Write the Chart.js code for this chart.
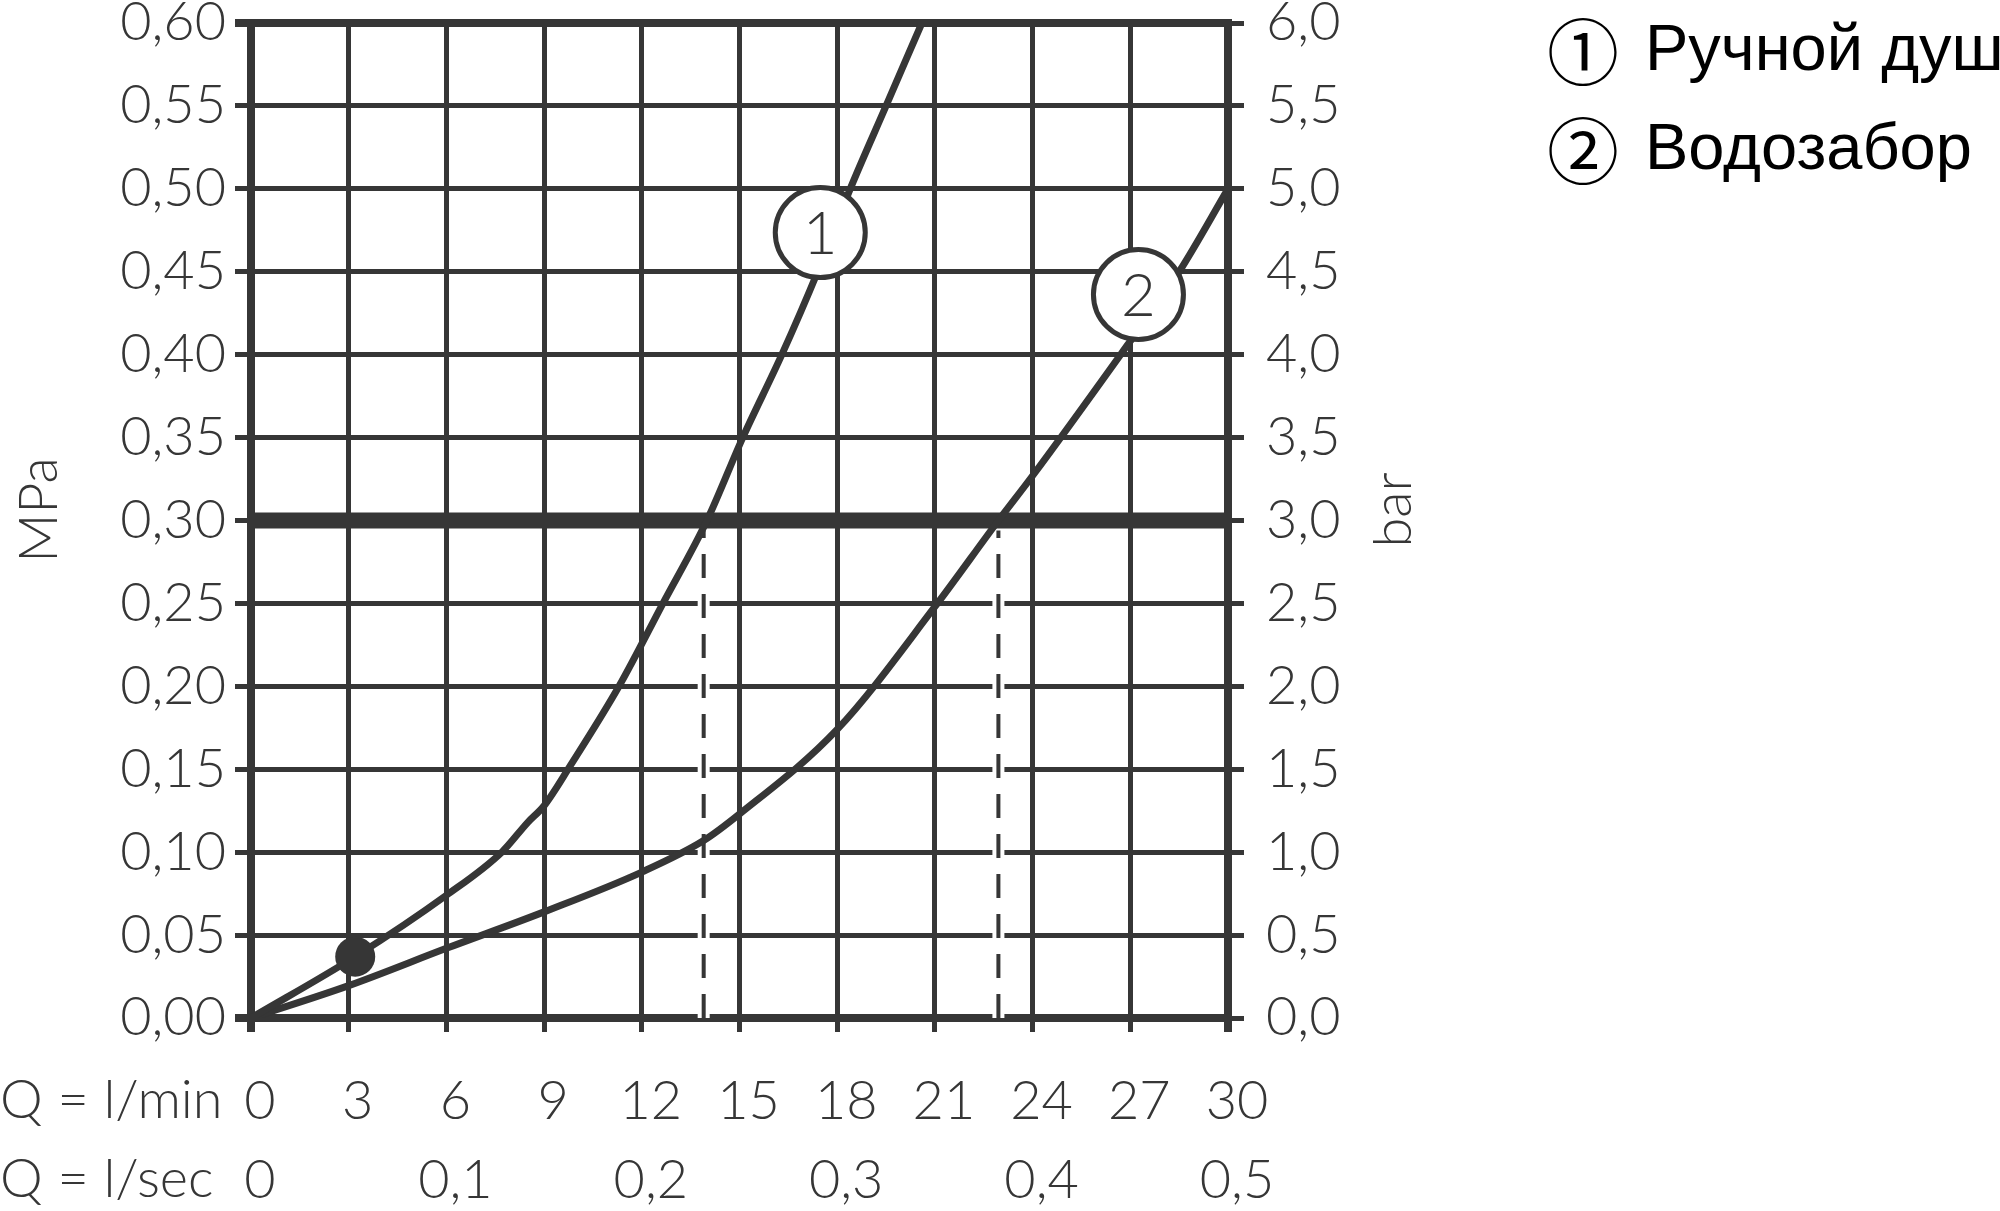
<!DOCTYPE html>
<html>
<head>
<meta charset="utf-8">
<script src="https://cdn.jsdelivr.net/npm/chart.js@4.4.1/dist/chart.umd.min.js"></script>
<style>
    html, body { margin: 0; padding: 0; background: #fff; }
    #wrap { width: 2000px; height: 1211px; position: relative; }
</style>
</head>
<body>
<div id="wrap"><canvas id="chart"></canvas></div>
<script>
// curve 1 - hand shower, curve 2 - tap outlet (Q in l/min, p in MPa)
const handShowerFlow = [0, 3.2, 6, 7.7, 8.5, 9, 9.8, 11.3, 12.65, 14.0, 15.1, 16.3, 17.4, 18.4, 19.5, 20.6];
const handShowerMPa  = [0, 0.037, 0.074, 0.100, 0.118, 0.128, 0.152, 0.200, 0.250, 0.300, 0.350, 0.400, 0.450, 0.500, 0.550, 0.600];

const tapFlow = [0, 3, 6, 9, 12, 13.9, 15, 18, 21, 22.95, 24, 26.7, 28.5, 30];
const tapMPa  = [0, 0.0195, 0.042, 0.064, 0.088, 0.107, 0.123, 0.174, 0.248, 0.300, 0.327, 0.400, 0.450, 0.500];

const refPressure = 0.30;            // heavy line
const dropFlows = [13.9, 22.95];     // dashed verticals
const markerPoint = [3.2, 0.037];    // black dot on curve 1
const labelFlows = [17.48, 27.25];   // circled numbers
const labelMPa = [0.4736, 0.4363];
const labelTexts = ["1", "2"];

const legendItems = ["Ручной душ", "Водозабор"];
const legendMarks = ["\u2460", "\u2461"];

const INK = "#363636";
const FONT = "Lato";
const FS = 54;

function pts(xs, ys) {
    return xs.map((x, i) => ({ x: x, y: ys[i] }));
}

function comma(v, d) {
    return v.toFixed(d).replace(".", ",");
}

const datasets = [];

dropFlows.forEach(f => {
    datasets.push({
        data: [{ x: f, y: 0 }, { x: f, y: refPressure }],
        borderColor: "#fff", borderWidth: 12, pointRadius: 0, order: 10
    });
    datasets.push({
        data: [{ x: f, y: 0 }, { x: f, y: refPressure - 0.006 }],
        borderColor: INK, borderWidth: 4, borderDash: [24, 16], pointRadius: 0, order: 9
    });
});

datasets.push({
    data: [{ x: 0, y: refPressure }, { x: 30, y: refPressure }],
    borderColor: INK, borderWidth: 16, pointRadius: 0, order: 8
});

datasets.push({
    label: legendItems[0],
    data: pts(handShowerFlow, handShowerMPa),
    borderColor: INK, borderWidth: 7, pointRadius: 0,
    cubicInterpolationMode: "monotone", order: 5
});
datasets.push({
    label: legendItems[1],
    data: pts(tapFlow, tapMPa),
    borderColor: INK, borderWidth: 7, pointRadius: 0,
    cubicInterpolationMode: "monotone", order: 5
});

datasets.push({
    data: [{ x: markerPoint[0], y: markerPoint[1] }],
    showLine: false, pointRadius: 20, pointBackgroundColor: INK,
    pointBorderWidth: 0, order: 2
});

const circleIndex = datasets.length;
datasets.push({
    data: pts(labelFlows, labelMPa),
    showLine: false, pointRadius: 45, pointBackgroundColor: "#fff",
    pointBorderColor: INK, pointBorderWidth: 5, order: 1
});

const textPlugin = {
    id: "extraText",
    afterDatasetsDraw(chart) {
        const ctx = chart.ctx;
        const meta = chart.getDatasetMeta(circleIndex);
        ctx.save();
        ctx.fillStyle = INK;
        ctx.font = `300 60px ${FONT}`;
        ctx.textAlign = "center";
        ctx.textBaseline = "middle";
        meta.data.forEach((el, i) => {
            ctx.fillText(labelTexts[i], el.x, el.y + 2);
        });
        ctx.restore();
    },
    afterDraw(chart) {
        const ctx = chart.ctx;
        const area = chart.chartArea;
        ctx.save();
        ctx.fillStyle = INK;
        ctx.font = `300 ${FS}px ${FONT}`;
        ctx.textAlign = "left";
        ctx.textBaseline = "middle";
        ctx.fillText("Q = l/min", 0, area.bottom + 83);
        ctx.fillText("Q = l/sec", 0, area.bottom + 162);

        [["MPa", 40], ["bar", 1394]].forEach(([t, x]) => {
            ctx.save();
            ctx.translate(x, 510);
            ctx.rotate(-Math.PI / 2);
            ctx.textAlign = "center";
            ctx.fillText(t, 0, 0);
            ctx.restore();
        });

        ctx.fillStyle = "#000";
        ctx.textAlign = "left";
        legendItems.forEach((t, i) => {
            const y = 52 + i * 99;
            ctx.font = `72px "Noto Sans CJK JP"`;
            ctx.fillText(legendMarks[i], 1547, y);
            ctx.font = `65px "Liberation Sans"`;
            ctx.fillText(t, 1645, y);
        });
        ctx.restore();
    }
};

const tickFont = { family: FONT, size: FS, weight: "300" };
// tiny line height keeps the end labels from pushing the plot area inward
const sideFont = Object.assign({}, tickFont, { lineHeight: 0.01 });

new Chart(document.getElementById("chart"), {
    type: "line",
    data: { datasets: datasets },
    options: {
        responsive: true,
        maintainAspectRatio: false,
        animation: false,
        layout: { autoPadding: false, padding: { left: 0, top: 23, right: 622, bottom: 0 } },
        plugins: { legend: { display: false }, tooltip: { enabled: false } },
        scales: {
            x: {
                type: "linear", min: 0, max: 30,
                afterFit: s => { s.height = 193; },
                ticks: {
                    stepSize: 3, autoSkip: false, maxRotation: 0,
                    color: INK, font: Object.assign({}, tickFont, { lineHeight: 79 / FS }),
                    padding: 30, labelOffset: 9,
                    callback: v => [String(v), v % 6 === 0 ? (v === 0 ? "0" : comma(v / 60, 1)) : ""]
                },
                grid: {
                    color: INK, tickLength: 14,
                    lineWidth: c => (c.tick && (c.tick.value === 0 || c.tick.value === 30)) ? 8 : 5
                },
                border: { color: INK, width: 8 }
            },
            y: {
                type: "linear", position: "left", min: 0, max: 0.6,
                afterFit: s => { s.width = 251; },
                ticks: {
                    stepSize: 0.05, color: INK, font: sideFont, padding: 9,
                    callback: v => comma(v, 2)
                },
                grid: {
                    color: INK, tickLength: 16,
                    lineWidth: c => (c.tick && (Math.abs(c.tick.value) < 1e-6 || Math.abs(c.tick.value - 0.6) < 1e-6)) ? 8 : 5
                },
                border: { color: INK, width: 8 }
            },
            y2: {
                type: "linear", position: "right", min: 0, max: 6,
                afterFit: s => { s.width = 150; },
                ticks: {
                    stepSize: 0.5, color: INK, font: sideFont, padding: 22,
                    callback: v => comma(v, 1)
                },
                grid: { drawOnChartArea: false, color: INK, tickLength: 16, lineWidth: 5 },
                border: { color: INK, width: 8 }
            }
        }
    },
    plugins: [textPlugin]
});
</script>
</body>
</html>
